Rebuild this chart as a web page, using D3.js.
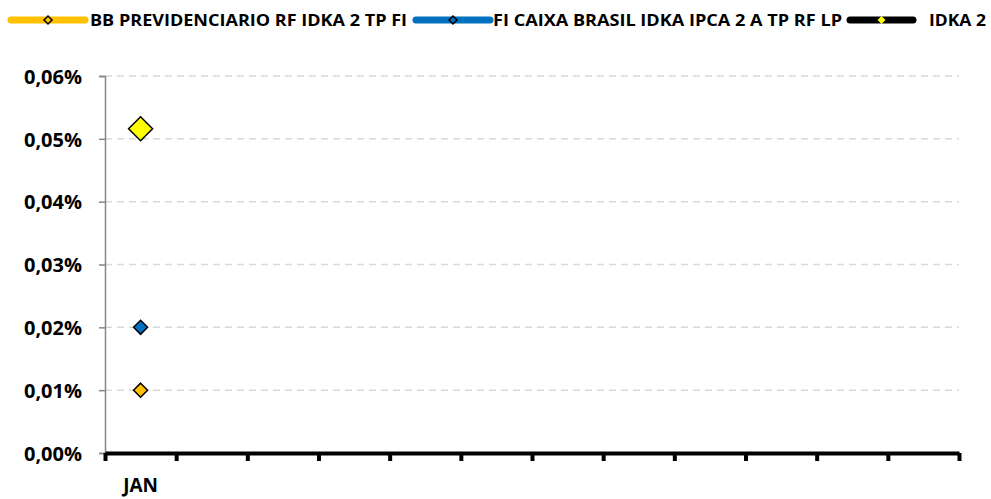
<!DOCTYPE html>
<html>
<head>
<meta charset="utf-8">
<script src="https://cdn.jsdelivr.net/npm/d3@7"></script>
<style>
  body { margin: 0; background: #fff; }
  text { font-family: "Open Sans", sans-serif; font-weight: 700; fill: #000; }
</style>
</head>
<body>
<div class="chart"></div>
<script>
// data (values in %)
var months = ["JAN", "", "", "", "", "", "", "", "", "", "", ""];
var bbPrev = [0.01];
var caixaIdka = [0.02];
var idka2 = [0.0516];
var yTicks = [0, 0.01, 0.02, 0.03, 0.04, 0.05, 0.06];

var series = [
    { name: "BB PREVIDENCIARIO RF IDKA 2 TP FI", values: bbPrev, line: "#FFC000", fill: "#FFC000", size: 7 },
    { name: "FI CAIXA BRASIL IDKA IPCA 2 A TP RF LP", values: caixaIdka, line: "#0070C0", fill: "#0070C0", size: 7 },
    { name: "IDKA 2", values: idka2, line: "#000000", fill: "#FFFF00", size: 12 }
];

var svgW = 991, svgH = 499;
var svg = d3.select(".chart").append("svg")
    .attr("width", svgW)
    .attr("height", svgH);

var x = d3.scaleLinear().domain([0, months.length]).range([105, 959]);
var y = d3.scaleLinear().domain([0, 0.06]).range([453, 76]);

function diamond(s) {
    return "M0," + (-s) + "L" + s + ",0L0," + s + "L" + (-s) + ",0Z";
}

// grid
svg.append("g")
    .selectAll("line")
    .data(yTicks.slice(1))
    .enter()
    .append("line")
    .attr("x1", x(0))
    .attr("x2", x(months.length))
    .attr("y1", function(d) { return y(d); })
    .attr("y2", function(d) { return y(d); })
    .attr("stroke", "#d9d9d9")
    .attr("stroke-width", 1.5)
    .attr("stroke-dasharray", "7,5");

// y axis
var yAxis = d3.axisLeft(y)
    .tickValues(yTicks)
    .tickSize(6)
    .tickPadding(17)
    .tickFormat(function(d) { return d.toFixed(2).replace(".", ",") + "%"; });

var gy = svg.append("g")
    .attr("transform", "translate(" + x(0) + ",0)")
    .call(yAxis);
gy.select(".domain").attr("stroke", "#868686").attr("stroke-width", 1.5);
gy.selectAll(".tick line").attr("stroke", "#868686").attr("stroke-width", 1.5);
gy.selectAll(".tick text").style("font-size", "20px").attr("dy", "0.36em");

// x axis
var xAxis = d3.axisBottom(x)
    .tickValues(d3.range(0, months.length + 1))
    .tickSize(8)
    .tickSizeOuter(0)
    .tickFormat("");

var gx = svg.append("g")
    .attr("transform", "translate(0," + y(0) + ")")
    .call(xAxis);
gx.select(".domain").attr("stroke", "#000").attr("stroke-width", 4);
gx.selectAll(".tick line").attr("stroke", "#000").attr("stroke-width", 4);

svg.append("g")
    .selectAll("text")
    .data(months)
    .enter()
    .append("text")
    .attr("x", function(d, i) { return x(i + 0.5); })
    .attr("y", 492)
    .attr("text-anchor", "middle")
    .style("font-size", "19px")
    .text(function(d) { return d; });

// points
series.forEach(function(s) {
    svg.append("g")
        .selectAll("path")
        .data(s.values)
        .enter()
        .append("path")
        .attr("d", diamond(s.size))
        .attr("transform", function(d, i) {
            return "translate(" + x(i + 0.5) + "," + y(d) + ")";
        })
        .attr("fill", s.fill)
        .attr("stroke", "#000")
        .attr("stroke-width", 1.5);
});

// legend
var legendPos = [
    { x1: 11, x2: 85, tx: 90, tw: 317 },
    { x1: 416, x2: 490, tx: 493, tw: 349 },
    { x1: 850, x2: 913, tx: 929, tw: 57 }
];
var legend = svg.append("g");
series.forEach(function(s, i) {
    var p = legendPos[i];
    var ly = 20;
    legend.append("line")
        .attr("x1", p.x1).attr("x2", p.x2)
        .attr("y1", ly).attr("y2", ly)
        .attr("stroke", s.line)
        .attr("stroke-width", 7)
        .attr("stroke-linecap", "round");
    legend.append("path")
        .attr("d", diamond(4))
        .attr("transform", "translate(" + ((p.x1 + p.x2) / 2) + "," + ly + ")")
        .attr("fill", s.fill)
        .attr("stroke", i === 2 ? "none" : "#000")
        .attr("stroke-width", 1.5);
    legend.append("text")
        .attr("x", p.tx)
        .attr("y", ly + 6)
        .attr("textLength", p.tw)
        .attr("lengthAdjust", "spacingAndGlyphs")
        .style("font-size", "16px")
        .text(s.name);
});
</script>
</body>
</html>
